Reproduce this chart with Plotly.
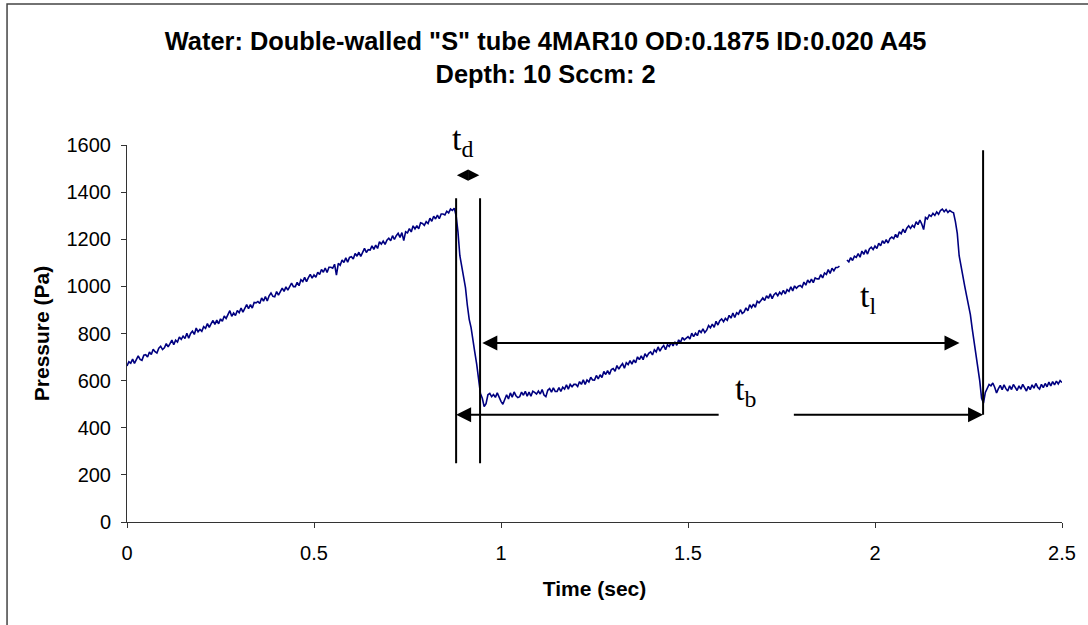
import numpy as np
import plotly.graph_objects as go

# Sampling interval of the pressure trace (s)
DT = 0.005

# Pressure readings (Pa), one every DT seconds from t = 0 to t = 2.5 s.
# None marks a short dropout in the record.
pressure = [
    662, 680, 674, 691, 673, 691, 705, 690, 686, 708,
    710, 700, 721, 711, 733, 723, 717, 738, 746, 732,
    739, 757, 743, 757, 772, 752, 772, 764, 785, 775,
    789, 779, 801, 780, 800, 810, 796, 823, 807, 817,
    809, 829, 822, 842, 826, 842, 855, 839, 857, 841,
    862, 852, 874, 864, 883, 897, 873, 887, 876, 898,
    888, 908, 891, 909, 923, 905, 923, 908, 932, 930,
    936, 927, 951, 937, 957, 938, 960, 972, 958, 956,
    978, 963, 981, 993, 979, 998, 984, 998, 1014, 999,
    999, 1017, 1003, 1028, 1020, 1038, 1020, 1037, 1051, 1035,
    1049, 1039, 1060, 1050, 1072, 1060, 1078, 1059, 1081, 1081,
    1077, 1094, 1048, 1098, 1090, 1112, 1101, 1121, 1103, 1123,
    1126, 1116, 1140, 1128, 1145, 1127, 1147, 1161, 1144, 1156,
    1154, 1172, 1157, 1175, 1161, 1189, 1179, 1192, 1178, 1196,
    1204, 1194, 1215, 1199, 1215, 1225, 1208, 1228, 1194, 1232,
    1227, 1245, 1231, 1257, 1244, 1258, 1244, 1270, 1267, 1259,
    1275, 1267, 1289, 1276, 1298, 1286, 1302, 1287, 1307, 1307,
    1303, 1319, 1312, 1328, 1322, 1332, 1300, 1230, 1130, 1085,
    1050, 995, 920, 860, 825, 780, 720, 670, 600, 545,
    525, 490, 502, 540, 546, 532, 541, 529, 548, 526,
    512, 500, 524, 540, 522, 548, 530, 552, 536, 528,
    532, 551, 538, 555, 534, 551, 534, 555, 550, 543,
    556, 543, 562, 539, 532, 559, 566, 551, 569, 554,
    554, 570, 554, 572, 564, 582, 564, 584, 574, 584,
    584, 575, 596, 584, 603, 584, 603, 594, 614, 603,
    602, 622, 607, 625, 613, 639, 626, 642, 626, 647,
    651, 640, 664, 649, 662, 672, 653, 676, 668, 685,
    670, 688, 676, 701, 689, 705, 689, 714, 702, 716,
    722, 709, 731, 722, 743, 725, 740, 749, 731, 752,
    745, 762, 747, 765, 750, 773, 762, 783, 773, 782,
    787, 777, 801, 787, 801, 791, 814, 804, 820, 804,
    814, 834, 824, 840, 826, 852, 836, 854, 862, 850,
    864, 856, 877, 865, 887, 868, 888, 882, 901, 885,
    891, 909, 896, 922, 910, 925, 911, 937, 930, 940,
    951, 940, 960, 949, 968, 948, 965, 972, 960, 975,
    966, 983, 968, 986, 979, 998, 981, 1002, 992, 1001,
    1004, 996, 1018, 1005, 1027, 1015, 1031, 1016, 1036, 1032,
    1032, 1050, 1036, 1057, 1051, 1071, 1055, 1077, 1066, 1080,
    1080, 1086, None, None, None, 1112, 1104, 1122, 1110, 1128,
    1123, 1139, 1124, 1150, 1136, 1155, 1137, 1159, 1166, 1156,
    1171, 1161, 1183, 1172, 1194, 1182, 1198, 1184, 1203, 1209,
    1202, 1221, 1207, 1232, 1223, 1243, 1228, 1247, 1257, 1246,
    1259, 1251, 1274, 1262, 1281, 1265, 1241, 1292, 1286, 1303,
    1297, 1310, 1301, 1316, 1306, 1322, 1328, 1317, 1326, 1314,
    1322, 1316, 1312, 1275, 1225, 1130, 1080, 1050, 1000, 960,
    920, 880, 820, 765, 720, 660, 600, 525, 505, 550,
    570, 584, 578, 590, 572, 548, 566, 580, 562, 582,
    566, 556, 578, 562, 584, 568, 558, 578, 564, 584,
    568, 556, 576, 562, 582, 568, 588, 572, 564, 584,
    570, 588, 574, 594, 578, 596, 582, 598, 586, 600,
    592,
]
time = np.round(np.arange(len(pressure)) * DT, 3)

# Bubble-cycle event times (s)
t_release = 0.880      # start of pressure drop (bubble detaches)
t_recover = 0.944      # end of pressure drop
t_next = 2.289         # end of next drop
t_peak_next = 2.226    # start of next drop

# Marker heights (Pa)
mark_top, mark_bottom = 1374, 249
next_top = 1578
td_level = 1472
tl_level = 760
tb_level = 455
tb_gap = (1.586, 1.779)    # break in the t_b arrow around its label

# Label anchors (s, Pa)
tl_label = (1.982, 950)
tb_label = (1.653, 557)
td_label_x = 0.896

x_ticks = [0, 0.5, 1, 1.5, 2, 2.5]
x_ticklabels = ["0", "0.5", "1", "1.5", "2", "2.5"]
y_ticks = list(range(0, 1601, 200))

fig = go.Figure()
fig.add_trace(go.Scatter(
    x=time, y=pressure, mode="lines",
    line=dict(color="#000080", width=1.6),
    connectgaps=False, showlegend=False, hoverinfo="skip",
))

shapes = []
for tx in (t_release, t_recover):
    shapes.append(dict(type="line", xref="x", yref="y", x0=tx, x1=tx,
                       y0=mark_bottom, y1=mark_top,
                       line=dict(color="black", width=2)))
shapes.append(dict(type="line", xref="x", yref="y", x0=t_next, x1=t_next,
                   y0=tb_level, y1=next_top, line=dict(color="black", width=2)))
# outer chart frame
shapes.append(dict(type="rect", xref="paper", yref="paper",
                   x0=-0.1283, x1=1.05, y0=-0.35, y1=1.374,
                   line=dict(color="#444444", width=1.5), layer="below"))

serif = dict(family="Liberation Serif, Times New Roman, serif", size=34, color="black")


def arrow(x_head, x_tail, y, side="end", width=2, size=1.5):
    return dict(x=x_head, y=y, ax=x_tail, ay=y, xref="x", yref="y",
                axref="x", ayref="y", text="", showarrow=True,
                arrowhead=2, arrowsize=size, arrowwidth=width,
                arrowcolor="black", arrowside=side, standoff=0, startstandoff=0)


annotations = [
    # t_d: short double arrow between the two vertical markers
    arrow(t_release + 0.002, (t_release + t_recover) / 2, td_level, width=1.5, size=1.5),
    arrow(t_recover - 0.002, (t_release + t_recover) / 2, td_level, width=1.5, size=1.5),
    # t_l: double arrow
    arrow(t_peak_next, t_recover + 0.002, tl_level, side="end+start"),
    # t_b: two halves around the label
    arrow(t_release, tb_gap[0], tb_level),
    arrow(t_next, tb_gap[1], tb_level),
    dict(x=td_label_x, y=1.011, xref="x", yref="paper", text="t<sub>d</sub>",
         showarrow=False, font=serif, yanchor="middle"),
    dict(x=tl_label[0], y=tl_label[1], xref="x", yref="y", text="t<sub>l</sub>",
         showarrow=False, font=serif),
    dict(x=tb_label[0], y=tb_label[1], xref="x", yref="y", text="t<sub>b</sub>",
         showarrow=False, font=serif),
]

axis_font = dict(family="Liberation Sans, Arial, sans-serif", size=20, color="black")
axis_title_font = dict(family="Liberation Sans, Arial, sans-serif", size=21, color="black")

fig.update_layout(
    width=1088, height=625,
    margin=dict(l=127, r=26, t=145, b=103),
    paper_bgcolor="white", plot_bgcolor="white",
    title=dict(
        text='Water: Double-walled "S" tube 4MAR10 OD:0.1875 ID:0.020 A45<br>Depth: 10 Sccm: 2',
        x=0.5015, xanchor="center", y=0.92, yanchor="top", yref="container",
        font=dict(family="Liberation Sans, Arial, sans-serif", size=25.4, color="black", weight="bold"),
    ),
    xaxis=dict(
        range=[0, 2.5], tickvals=x_ticks, ticktext=x_ticklabels,
        showgrid=False, zeroline=False, showline=True, linecolor="#333333", linewidth=1,
        ticks="outside", ticklen=5, tickcolor="#333333", tickfont=axis_font,
        ticklabelstandoff=8,
        title=dict(text="<b>Time (sec)</b>", font=axis_title_font, standoff=18),
    ),
    yaxis=dict(
        range=[0, 1600], tickvals=y_ticks,
        showgrid=False, zeroline=False, showline=True, linecolor="#333333", linewidth=1,
        ticks="outside", ticklen=5, tickcolor="#333333", tickfont=axis_font,
        ticklabelstandoff=6,
        title=dict(text="<b>Pressure (Pa)</b>", font=axis_title_font, standoff=11),
    ),
    shapes=shapes,
    annotations=annotations,
)

fig.write_html("out.html")
